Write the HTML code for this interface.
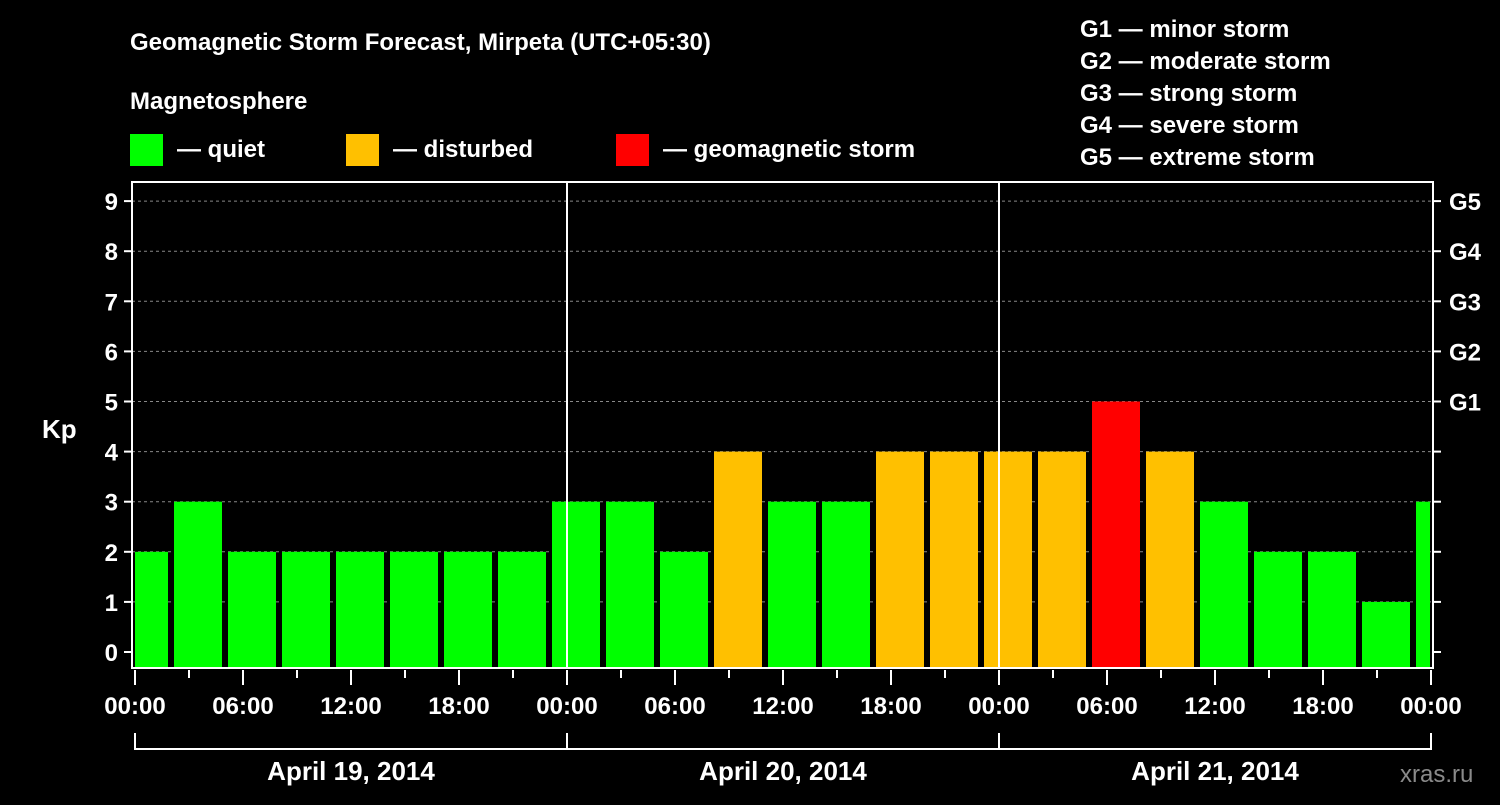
<!DOCTYPE html>
<html><head><meta charset="utf-8"><style>
body{margin:0;background:#000;width:1500px;height:800px;overflow:hidden}
svg text{font-family:"Liberation Sans",sans-serif;font-weight:bold;fill:#fff}
</style></head><body>
<svg id="c" width="1500" height="800">
<text x="130" y="50" font-size="24">Geomagnetic Storm Forecast, Mirpeta (UTC+05:30)</text>
<text x="130" y="109" font-size="24">Magnetosphere</text>
<g><rect x="130" y="134" width="33" height="32" fill="#00ff00"/><text x="177" y="157" font-size="24">— quiet</text></g>
<g><rect x="346" y="134" width="33" height="32" fill="#ffc000"/><text x="393" y="157" font-size="24">— disturbed</text></g>
<g><rect x="616" y="134" width="33" height="32" fill="#ff0000"/><text x="663" y="157" font-size="24">— geomagnetic storm</text></g>
<g font-size="24">
<text x="1080" y="37">G1 — minor storm</text>
<text x="1080" y="69">G2 — moderate storm</text>
<text x="1080" y="101">G3 — strong storm</text>
<text x="1080" y="133">G4 — severe storm</text>
<text x="1080" y="165">G5 — extreme storm</text>
</g>
<text x="42" y="438" font-size="26">Kp</text>
<text x="1400" y="782" font-size="24" fill="#888" style="fill:#8a8a8a;font-weight:normal">xras.ru</text>
<g id="g"></g>
</svg>
<script>
const kpValues=[2,3,2,2,2,2,2,2,3,3,2,4,3,3,4,4,4,4,5,4,3,2,2,1,3];
const dayLabels=["April 19, 2014","April 20, 2014","April 21, 2014"];
const gLabels=["G1","G2","G3","G4","G5"];
const firstBarStartHour=-1;
const NS="http://www.w3.org/2000/svg";
const L=132,R=1433,T=182,B=668,X0=135,PXH=18;
const xs=h=>X0+h*PXH;
const ys=k=>652-k*50.1;
const g=document.getElementById('g');
function mk(t,a){const e=document.createElementNS(NS,t);for(const k in a)e.setAttribute(k,a[k]);g.appendChild(e);return e;}
// grid
for(let k=1;k<=9;k++){const e=mk('line',{x1:L,x2:R,y1:ys(k),y2:ys(k),stroke:'#888','stroke-dasharray':'3,3','stroke-width':1});

}
// bars
kpValues.forEach((v,i)=>{const h0=firstBarStartHour+i*3;let x1=Math.max(xs(h0)+3,X0),x2=Math.min(xs(h0+3)-3,R-3);
const col=v>=5?'#ff0000':v>=4?'#ffc000':'#00ff00';
const e=mk('rect',{x:x1,y:ys(v),width:x2-x1,height:B-ys(v),fill:col});

});
// day lines
for(let d=1;d<3;d++){const e=mk('line',{x1:xs(d*24),x2:xs(d*24),y1:T,y2:B,stroke:'#fff','stroke-width':2});

}
// frame
const f=mk('rect',{x:L,y:T,width:R-L,height:B-T,fill:'none',stroke:'#fff','stroke-width':2});


// y ticks
for(let k=0;k<=9;k++){mk('line',{x1:L-8,x2:L,y1:ys(k),y2:ys(k),stroke:'#fff','stroke-width':2});
mk('line',{x1:R,x2:R+8,y1:ys(k),y2:ys(k),stroke:'#fff','stroke-width':2});
const t=mk('text',{x:L-14,y:ys(k)+9,'font-size':24,'text-anchor':'end'});t.textContent=k;

}
gLabels.forEach((s,i)=>{const t=mk('text',{x:R+16,y:ys(5+i)+9,'font-size':24});t.textContent=s;

});
// x ticks
for(let h=0;h<=72;h+=3){const maj=h%6==0;mk('line',{x1:xs(h),x2:xs(h),y1:B+2,y2:B+(maj?17:10),stroke:'#fff','stroke-width':2});
if(maj){const t=mk('text',{x:xs(h),y:714,'font-size':24,'text-anchor':'middle'});t.textContent=String(h%24).padStart(2,'0')+':00';

}}
// day brackets
dayLabels.forEach((s,d)=>{const a=xs(d*24),b=xs(d*24+24);
mk('path',{d:`M${a},733V749H${b}V733`,fill:'none',stroke:'#fff','stroke-width':2});
const t=mk('text',{x:(a+b)/2,y:780,'font-size':26,'text-anchor':'middle'});t.textContent=s;

});
</script>
</body></html>
